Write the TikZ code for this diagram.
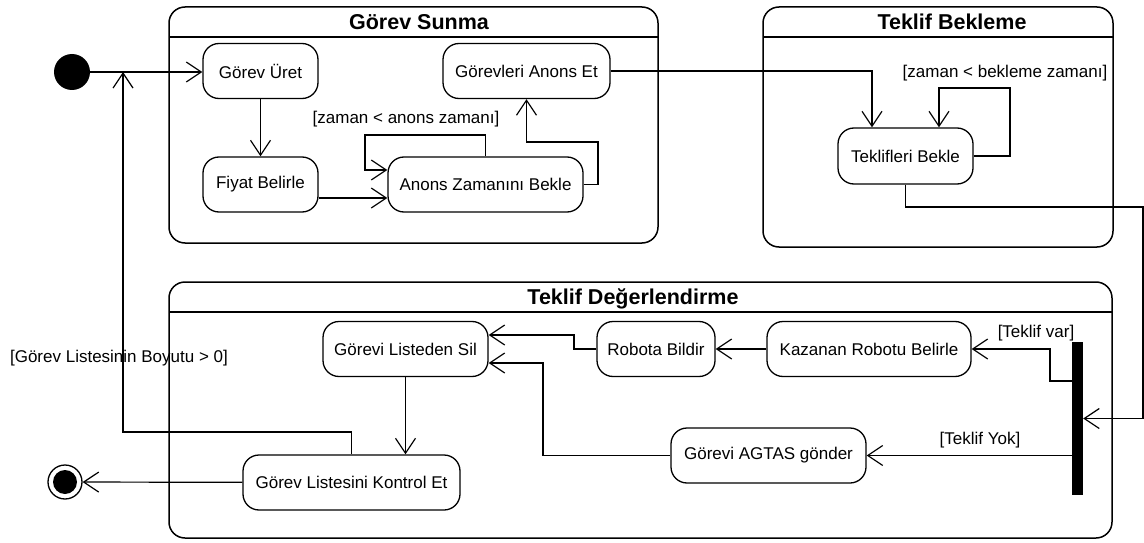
\documentclass[tikz,border=0pt]{standalone}
\usepackage{fontspec}
\setmainfont{Liberation Sans}
\usetikzlibrary{arrows.meta}

\begin{document}
\begin{tikzpicture}[x=1pt, y=-1pt,
    durum/.style={draw, line width=1.3pt, rounded corners=16pt, minimum height=55pt, inner sep=0pt, font=\fontsize{17}{20}\selectfont},
    grup/.style={draw, line width=1.5pt, rounded corners=16pt},
    baslik/.style={font=\fontsize{21.5}{24}\selectfont\bfseries},
    etiket/.style={font=\fontsize{17}{20}\selectfont, inner sep=1pt},
    ok/.style={line width=1.2pt, -{Straight Barb[length=15pt,width=20pt]}}]
    \useasboundingbox (0,0) rectangle (1144,543);

    % Gorev Sunma
    \draw[grup] (169,7) rectangle (658,243);
    \draw[line width=1.5pt] (169,37) -- (658,37);
    \node[baslik] (t1) at (419,22) {Görev Sunma};
    \node[durum, minimum width=115pt] (uret) at (260.5,71) {Görev Üret};
    \node[durum, minimum width=115pt] (fiyat) at (260.5,184.5) {Fiyat Belirle};
    \node[durum, minimum width=195pt] (anons) at (485.5,184.5) {Anons Zamanını Bekle};
    \node[durum, minimum width=167pt] (anonset) at (526.5,71) {Görevleri Anons Et};

    % Teklif Bekleme
    \draw[grup] (763,7) rectangle (1113,247);
    \draw[line width=1.5pt] (763,37) -- (1113,37);
    \node[baslik] (t2) at (952,22) {Teklif Bekleme};
    \node[durum, minimum width=135pt, minimum height=56pt] (bekle) at (905.5,156) {Teklifleri Bekle};

    % Teklif Degerlendirme
    \draw[grup] (169,282) rectangle (1112,538);
    \draw[line width=1.5pt] (169,312) -- (1112,312);
    \node[baslik] (t3) at (633,299) {Teklif Değerlendirme};
    \node[durum, minimum width=165pt] (sil) at (405.5,349) {Görevi Listeden Sil};
    \node[durum, minimum width=118pt] (robota) at (656,349) {Robota Bildir};
    \node[durum, minimum width=204pt] (kazanan) at (869,349) {Kazanan Robotu Belirle};
    \node[durum, minimum width=195pt] (agtas) at (768.5,455.5) {Görevi AGTAS gönder};
    \node[durum, minimum width=217pt] (kontrol) at (351.5,482.5) {Görev Listesini Kontrol Et};
    \node[fill, minimum width=11pt, minimum height=153pt, inner sep=0pt] (bar) at (1077.5,418.5) {};

    % baslangic ve son
    \node[circle, fill, minimum size=36pt, inner sep=0pt] (bas) at (72,72) {};
    \node[circle, draw, line width=1.3pt, minimum size=34pt, inner sep=0pt] (son) at (65,482) {};
    \fill (son) circle (12pt);

    % gecisler
    \coordinate (donus) at (123,432);
    \coordinate (dongu1) at (365,135);
    \coordinate (k1) at (598,142);
    \coordinate (dongu2) at (1010,88);
    \coordinate (k3) at (1143,207);
    \coordinate (k5) at (1050,381);
    \coordinate (k6) at (574,335);
    \coordinate (k7) at (543,363);

    \draw[ok] (bas) -- (bas -| uret.west);
    \draw[ok] (kontrol.north) |- (donus) -- (donus |- bas);
    \draw[ok] (uret) -- (fiyat);
    \draw[ok] ([yshift=-13.5pt]fiyat.east) -- ([yshift=-13.5pt]fiyat.east -| anons.west);
    \draw[ok] (anons.north) |- (dongu1) |- ([yshift=14.5pt]anons.west);
    \draw[ok] (anons.east) -| (k1) -| (anonset.south);
    \draw[ok] (anonset.east) -| ([xshift=-33.5pt]bekle.north);
    \draw[ok] (bekle.east) -| (dongu2) -| ([xshift=33.5pt]bekle.north);
    \draw[ok] (bekle.south) |- (k3) |- (bar.east);
    \draw[ok] (bar.west |- k5) -- (k5) |- (kazanan.east);
    \draw[ok] (bar.west |- agtas) -- (agtas.east);
    \draw[ok] (kazanan) -- (robota);
    \draw[ok] (robota.west) -| (k6) -- (k6 -| sil.east);
    \draw[ok] (agtas.west) -| (k7) -- (k7 -| sil.east);
    \draw[ok] (sil.south) -- (sil.south |- kontrol.north);
    \draw[ok] (kontrol) -- (son);

    % etiketler
    \node[etiket] (e1) at (406,119) {[zaman < anons zamanı]};
    \node[etiket] (e2) at (1005,73) {[zaman < bekleme zamanı]};
    \node[etiket] (e3) at (1036,333) {[Teklif var]};
    \node[etiket] (e4) at (980,440) {[Teklif Yok]};
    \node[etiket] (e5) at (119,358) {[Görev Listesinin Boyutu > 0]};
\end{tikzpicture}
\end{document}
